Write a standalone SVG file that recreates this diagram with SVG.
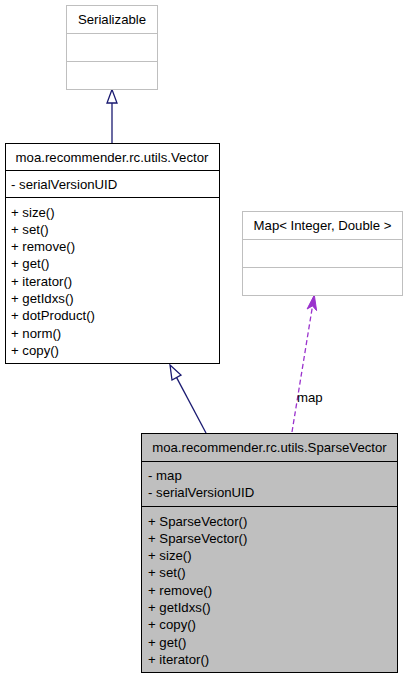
<svg xmlns="http://www.w3.org/2000/svg" width="408" height="680" viewBox="0 0 408 680">
<style>
text{font-family:"Liberation Sans",Arial,Helvetica,sans-serif;font-size:13.2px;fill:#000}
.t{text-anchor:middle}
.g{fill:#fff;stroke:#bfbfbf;stroke-width:1}
.w{fill:#fff;stroke:#000;stroke-width:1}
.s{fill:#bfbfbf;stroke:#000;stroke-width:1}
.gl{stroke:#bfbfbf;stroke-width:1}
.bl{stroke:#000;stroke-width:1}
.inh{stroke:#191970;stroke-width:1.3;fill:none}
.tri{fill:#fff;stroke:#191970;stroke-width:1.3}
.use{stroke:#9a32cd;stroke-width:1.3;fill:none;stroke-dasharray:5,3}
.vee{fill:#9a32cd;stroke:#9a32cd;stroke-width:1}
</style>
<g id="edges">
<line class="inh" x1="112" y1="143" x2="112" y2="103"/>
<polygon class="tri" points="112,89.5 107,103 117,103"/>
<line class="inh" x1="206" y1="433" x2="176.5" y2="377.4"/>
<polygon class="tri" points="170,365 181,375 172,380"/>
<line class="use" x1="292" y1="432" x2="312.5" y2="306"/>
<polygon class="vee" points="314.3,295 316.6,310.6 312.5,305.9 307.1,309"/>
<text x="297" y="402">map</text>
</g>
<g id="serializable">
<rect class="g" x="66.5" y="5.5" width="91" height="84"/>
<line class="gl" x1="66.5" y1="33.5" x2="157.5" y2="33.5"/>
<line class="gl" x1="66.5" y1="61.5" x2="157.5" y2="61.5"/>
<text class="t" x="112" y="24">Serializable</text>
</g>
<g id="vector">
<rect class="w" x="5.5" y="143.5" width="214" height="220"/>
<line class="bl" x1="5.5" y1="170.5" x2="219.5" y2="170.5"/>
<line class="bl" x1="5.5" y1="197.5" x2="219.5" y2="197.5"/>
<text class="t" x="112" y="161.5">moa.recommender.rc.utils.Vector</text>
<text x="11" y="189">- serialVersionUID</text>
<text x="11" y="216.5">+ size()</text>
<text x="11" y="233.8">+ set()</text>
<text x="11" y="251.1">+ remove()</text>
<text x="11" y="268.4">+ get()</text>
<text x="11" y="285.7">+ iterator()</text>
<text x="11" y="303">+ getIdxs()</text>
<text x="11" y="320.3">+ dotProduct()</text>
<text x="11" y="337.6">+ norm()</text>
<text x="11" y="354.9">+ copy()</text>
</g>
<g id="map">
<rect class="g" x="242.5" y="211.5" width="160" height="84"/>
<line class="gl" x1="242.5" y1="239.5" x2="402.5" y2="239.5"/>
<line class="gl" x1="242.5" y1="267.5" x2="402.5" y2="267.5"/>
<text class="t" x="322.5" y="229.5">Map&lt; Integer, Double &gt;</text>
</g>
<g id="sparsevector">
<rect class="s" x="141.5" y="433.5" width="256" height="239"/>
<line class="bl" x1="141.5" y1="461.5" x2="397.5" y2="461.5"/>
<line class="bl" x1="141.5" y1="506.5" x2="397.5" y2="506.5"/>
<text class="t" x="269.5" y="452">moa.recommender.rc.utils.SparseVector</text>
<text x="148" y="480">- map</text>
<text x="148" y="497.3">- serialVersionUID</text>
<text x="148" y="525.5">+ SparseVector()</text>
<text x="148" y="542.8">+ SparseVector()</text>
<text x="148" y="560.1">+ size()</text>
<text x="148" y="577.4">+ set()</text>
<text x="148" y="594.7">+ remove()</text>
<text x="148" y="612">+ getIdxs()</text>
<text x="148" y="629.3">+ copy()</text>
<text x="148" y="646.6">+ get()</text>
<text x="148" y="663.9">+ iterator()</text>
</g>
</svg>
